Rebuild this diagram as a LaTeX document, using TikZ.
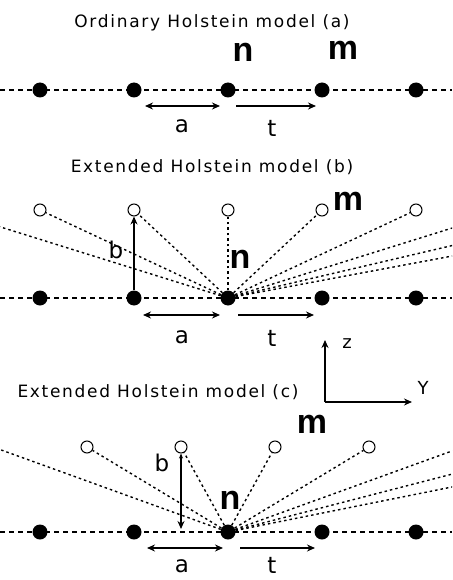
\documentclass[tikz,border=0pt]{standalone}
\usepackage{fontspec}
\setmainfont{DejaVu Sans}
\newfontfamily\titlefont[LetterSpace=10]{DejaVu Sans}
\newfontfamily\boldlab{Liberation Sans}
\usetikzlibrary{arrows.meta}
\begin{document}
\begin{tikzpicture}[x=1pt,y=-1pt,
  dot/.style={circle,fill=black,inner sep=0pt,minimum size=15pt},
  hollow/.style={circle,draw=black,line width=1pt,fill=white,inner sep=0pt,minimum size=12pt},
  base/.style={line width=1.4pt,dash pattern=on 5pt off 4pt},
  ray/.style={line width=1.4pt,dash pattern=on 2.5pt off 3pt},
  tip/.tip={Stealth[length=8pt,width=7pt]},
  dimboth/.style={line width=1.5pt,tip-tip},
  dimone/.style={line width=1.5pt,-tip},
  ttl/.style={font=\titlefont\fontsize{17}{20}\selectfont},
  lab/.style={font=\fontsize{23}{26}\selectfont,inner sep=1pt},
  big/.style={font=\boldlab\bfseries\fontsize{34}{38}\selectfont},
  axlab/.style={font=\fontsize{18}{21}\selectfont}
]
\useasboundingbox (0,0) rectangle (452,580);
\fill[white] (0,0) rectangle (452,580);
\clip (0,0) rectangle (452,580);

% ---------- panel (a)
\node[ttl] (ta) at (212,23) {Ordinary Holstein model (a)};
\coordinate (aL) at (0,90); \coordinate (aR) at (452,90);
\draw[base] (aL) -- (aR);
\foreach \i/\x in {1/40,2/134,3/228,4/322,5/416}
  \node[dot] (a\i) at (\x,90) {};
\node[big] (an) at (243,52) {n};
\node[big] (am) at (343,50) {m};
\coordinate (aa1) at (145,106); \coordinate (aa2) at (220,106);
\coordinate (at1) at (236,106); \coordinate (at2) at (316,106);
\draw[dimboth] (aa1) -- (aa2);
\draw[dimone] (at1) -- (at2);
\node[lab] (la) at (182,126) {a};
\node[lab] (lt) at (272,128) {t};

% ---------- panel (b)
\node[ttl] (tb) at (212,167) {Extended Holstein model (b)};
\coordinate (bL) at (0,298); \coordinate (bR) at (452,298);
\draw[base] (bL) -- (bR);
\foreach \i/\x in {1/40,2/134,3/228,4/322,5/416}{
  \node[dot] (b\i) at (\x,298) {};
  \node[hollow] (c\i) at (\x,210) {};
}
\coordinate (c0) at (-54,210);
\coordinate (c6) at (510,210);
\coordinate (c7) at (604,210);
\coordinate (c8) at (698,210);
\foreach \j in {0,1,2,3,4,5,6,7,8}
  \draw[ray] (b3) -- (c\j);
\draw[line width=1.5pt,-tip] (b2) -- (c2);
\node[big] (bm) at (348,201) {m};
\node[big] (bn) at (240,259) {n};
\node[lab] (lb) at (116,250) {b};
\coordinate (ba1) at (143,315); \coordinate (ba2) at (220,315);
\coordinate (bt1) at (238,315); \coordinate (bt2) at (314,315);
\draw[dimboth] (ba1) -- (ba2);
\draw[dimone] (bt1) -- (bt2);
\node[lab] (lba) at (182,337) {a};
\node[lab] (lbt) at (272,338) {t};

% ---------- axes
\coordinate (O) at (325,402);
\coordinate (Z) at (325,340);
\coordinate (Y) at (412,402);
\draw[line width=1.5pt,-tip] (O) -- (Z);
\draw[line width=1.5pt,-tip] (O) -- (Y);
\node[axlab] (lz) at (347,344) {z};
\node[axlab] (ly) at (423,388) {Y};

% ---------- panel (c)
\node[ttl] (tc) at (158,392) {Extended Holstein model (c)};
\coordinate (cL) at (0,532); \coordinate (cR) at (452,532);
\draw[base] (cL) -- (cR);
\foreach \i/\x in {1/40,2/134,3/228,4/322,5/416}
  \node[dot] (d\i) at (\x,532) {};
\foreach \i/\x in {1/87,2/181,3/275,4/369}
  \node[hollow] (e\i) at (\x,447) {};
\coordinate (e0) at (-7,447);
\coordinate (e5) at (463,447);
\coordinate (e6) at (557,447);
\coordinate (e7) at (651,447);
\foreach \j in {0,1,2,3,4,5,6,7}
  \draw[ray] (d3) -- (e\j);
\coordinate (eb) at (181,529);
\draw[line width=1.3pt,{Stealth[length=5pt,width=4pt]}-tip] (e2) -- (eb);
\node[big] (cm) at (312,424) {m};
\node[big] (cn) at (230,500) {n};
\node[lab] (lcb) at (162,463) {b};
\coordinate (ca1) at (147,548); \coordinate (ca2) at (223,548);
\coordinate (ct1) at (240,548); \coordinate (ct2) at (315,548);
\draw[dimboth] (ca1) -- (ca2);
\draw[dimone] (ct1) -- (ct2);
\node[lab] (lca) at (182,566) {a};
\node[lab] (lct) at (272,565) {t};
\end{tikzpicture}
\end{document}
